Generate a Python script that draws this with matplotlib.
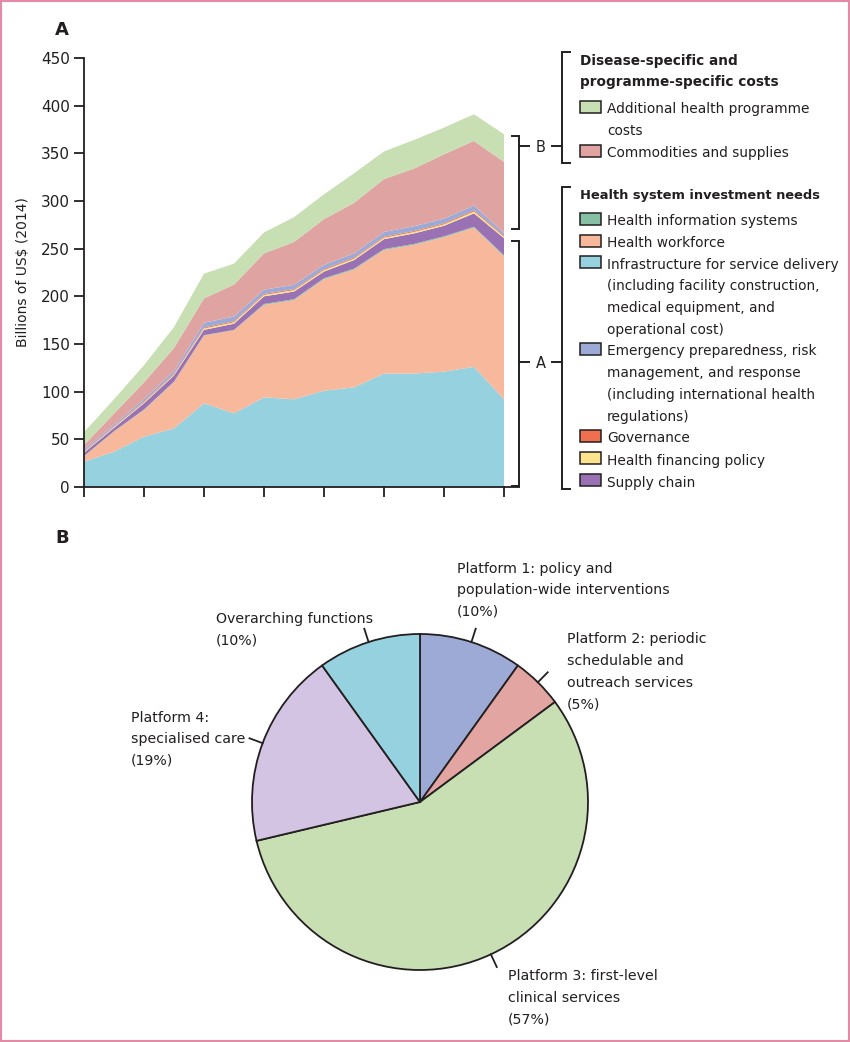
import matplotlib
matplotlib.use("Agg")
import matplotlib.pyplot as plt
from matplotlib.patches import Rectangle
import numpy as np

plt.rcParams['font.family'] = ['DejaVu Sans']

# ---------------- Data: panel A (billions of US$ 2014) ----------------
years = [2016, 2017, 2018, 2019, 2020, 2021, 2022, 2023, 2024, 2025, 2026, 2027, 2028, 2029, 2030]
tick_years = [2016, 2018, 2020, 2022, 2024, 2026, 2028, 2030]

infrastructure = [26.5, 37, 52.8, 61.5, 87.8, 77.3, 94, 92, 101, 104.5, 119, 119, 121, 126, 92]
workforce      = [5.5, 21, 28, 48.5, 71, 87, 97, 104, 117, 123.5, 129.6, 135, 141, 146, 150]
info_systems   = [0.5, 0.5, 0.5, 0.5, 0.5, 0.5, 1, 1, 1, 1, 1, 1, 1, 1, 1]
supply_chain   = [3.5, 3.5, 6.5, 6.5, 5.5, 6.5, 8, 8, 7, 9, 10.4, 11, 11, 14, 18]
financing      = [0.8, 0.8, 1, 1, 1.5, 1.5, 1.5, 1.5, 1.5, 1.5, 1.5, 1.5, 1.5, 2, 1.5]
governance     = [0.5, 0.5, 0.8, 0.8, 1, 1, 1, 1, 1, 1, 1, 1, 1, 1.2, 1]
emergency      = [2, 2, 2.5, 3, 5, 5, 4.5, 4.5, 4.5, 4.5, 5, 5, 5, 5, 3]
commodities    = [4.7, 11.7, 17.7, 24, 25.5, 33.5, 38, 45, 48, 53, 55.5, 60.5, 67.5, 67.8, 74.5]
additional     = [13.5, 15, 18, 22, 26, 22, 22, 26, 26, 31, 29, 30, 28, 28, 29]

y_ticks = [0, 50, 100, 150, 200, 250, 300, 350, 400, 450]

# ---------------- Data: panel B ----------------
pie_labels = ["Platform 1: policy and\npopulation-wide interventions\n(10%)",
              "Platform 2: periodic\nschedulable and\noutreach services\n(5%)",
              "Platform 3: first-level\nclinical services\n(57%)",
              "Platform 4:\nspecialised care\n(19%)",
              "Overarching functions\n(10%)"]
pie_values = [10, 5, 57, 19, 10]

# ---------------- Colours ----------------
c_infra = '#96d1e0'
c_work = '#f8b89c'
c_his = '#86c0a4'
c_supply = '#9a72b4'
c_fin = '#fbe48c'
c_gov = '#ef6f4e'
c_emerg = '#9eaad6'
c_comm = '#dfa4a1'
c_add = '#c8dfb3'
pie_colors = ['#9eaad6', '#e3a5a2', '#c8dfb3', '#d4c4e3', '#96d1e0']
ink = '#231f20'

W, H = 850, 1042
fig = plt.figure(figsize=(W / 100, H / 100), dpi=100)

def fx(x):
    return x / W

def fy(y):
    return 1 - y / H

# ---------------- Panel A ----------------
ax = fig.add_axes([fx(84), fy(487), fx(504) - fx(84), fy(58) - fy(487)])
ax.stackplot(years, infrastructure, workforce, info_systems, supply_chain,
             financing, governance, emergency, commodities, additional,
             colors=[c_infra, c_work, c_his, c_supply, c_fin, c_gov, c_emerg, c_comm, c_add],
             linewidth=0)
ax.set_xlim(years[0], years[-1])
ax.set_ylim(0, 450)
ax.set_yticks(y_ticks)
ax.set_xticks(tick_years)
ax.set_xticklabels([])
ax.tick_params(axis='both', direction='out', length=7, width=1.3, color=ink,
               labelcolor=ink, labelsize=11, pad=3)
for s in ['top', 'right']:
    ax.spines[s].set_visible(False)
for s in ['left', 'bottom']:
    ax.spines[s].set_color(ink)
    ax.spines[s].set_linewidth(1.3)
ax.spines['bottom'].set_bounds(years[0], years[-1])
ax.set_ylabel("Billions of US$ (2014)", fontsize=10, color=ink, labelpad=8)
ax.patch.set_alpha(0)

# ---------------- Overlay (pixel coordinates) ----------------
ov = fig.add_axes([0, 0, 1, 1], zorder=5)
ov.set_xlim(0, W)
ov.set_ylim(H, 0)
ov.axis('off')
ov.patch.set_alpha(0)

# figure border
ov.add_patch(Rectangle((0.8, 0.8), W - 1.6, H - 1.6, fill=False, edgecolor='#e48aa6', linewidth=1.5))

# panel letters
ov.text(62, 30, "A", fontsize=13, fontweight='bold', ha='center', va='center', color=ink)
ov.text(62, 538, "B", fontsize=13, fontweight='bold', ha='center', va='center', color=ink)

# extend bottom axis line to bracket
ov.plot([504, 520], [487, 487], color=ink, lw=1.3, solid_capstyle='butt')

def bracket(x, y0, y1, tick_dir, tick_len):
    ov.plot([x + tick_dir * tick_len, x, x, x + tick_dir * tick_len], [y0, y0, y1, y1],
            color=ink, lw=1.4, solid_joinstyle='miter')

# chart-side brackets
bracket(519, 136, 229, -1, 7)
bracket(519, 241, 486, -1, 7)
for yy, lab in [(146, "B"), (362, "A")]:
    ov.plot([519, 529], [yy, yy], color=ink, lw=1.4)
    ov.text(541, yy, lab, fontsize=10.5, ha='center', va='center_baseline', color=ink)
    ov.plot([552, 562], [yy, yy], color=ink, lw=1.4)

# legend-side brackets
bracket(562, 52, 163, 1, 8)
bracket(562, 187, 489, 1, 8)

LS = 21.7
leg_fs = 9.9
pie_fs = 10.2

def lines(x, y, txt, **kw):
    for i, ln in enumerate(txt.split("\n")):
        ov.text(x, y + i * LS, ln, va='center_baseline', ha='left', color=ink, **kw)

lines(580, 59, "Disease-specific and\nprogramme-specific costs", fontsize=9.8, fontweight='bold')
lines(580, 194, "Health system investment needs", fontsize=9.4, fontweight='bold')

legend_items = [
    ("Additional health programme\ncosts", c_add, 108),
    ("Commodities and supplies", c_comm, 152),
    ("Health information systems", c_his, 220),
    ("Health workforce", c_work, 241.5),
    ("Infrastructure for service delivery\n(including facility construction,\nmedical equipment, and\noperational cost)", c_infra, 263),
    ("Emergency preparedness, risk\nmanagement, and response\n(including international health\nregulations)", c_emerg, 350),
    ("Governance", c_gov, 437),
    ("Health financing policy", c_fin, 459),
    ("Supply chain", c_supply, 481),
]
for txt, col, yy in legend_items:
    ov.add_patch(Rectangle((580, yy - 7), 21, 12, facecolor=col, edgecolor=ink, linewidth=1.1))
    lines(607, yy, txt, fontsize=leg_fs)

# ---------------- Panel B: pie ----------------
cx, cy, R = 420, 802, 168
box = 220
pax = fig.add_axes([fx(cx - box), fy(cy + box), 2 * box / W, 2 * box / H])
wedges, _ = pax.pie(pie_values, radius=R, startangle=90, counterclock=False,
                    colors=pie_colors,
                    wedgeprops=dict(edgecolor=ink, linewidth=1.3))
pax.set_xlim(-box, box)
pax.set_ylim(-box, box)
pax.set_aspect('equal')
pax.axis('off')
for w in wedges:
    mid = np.deg2rad((w.theta1 + w.theta2) / 2)
    pax.plot([R * np.cos(mid), (R + 14) * np.cos(mid)],
             [R * np.sin(mid), (R + 14) * np.sin(mid)], color=ink, lw=1.3)

label_pos = [(457, 567), (567, 638), (508, 975), (131, 716), (216, 617)]
for txt, (xx, yy) in zip(pie_labels, label_pos):
    lines(xx, yy, txt, fontsize=pie_fs)

fig.savefig("out.png", dpi=100)
